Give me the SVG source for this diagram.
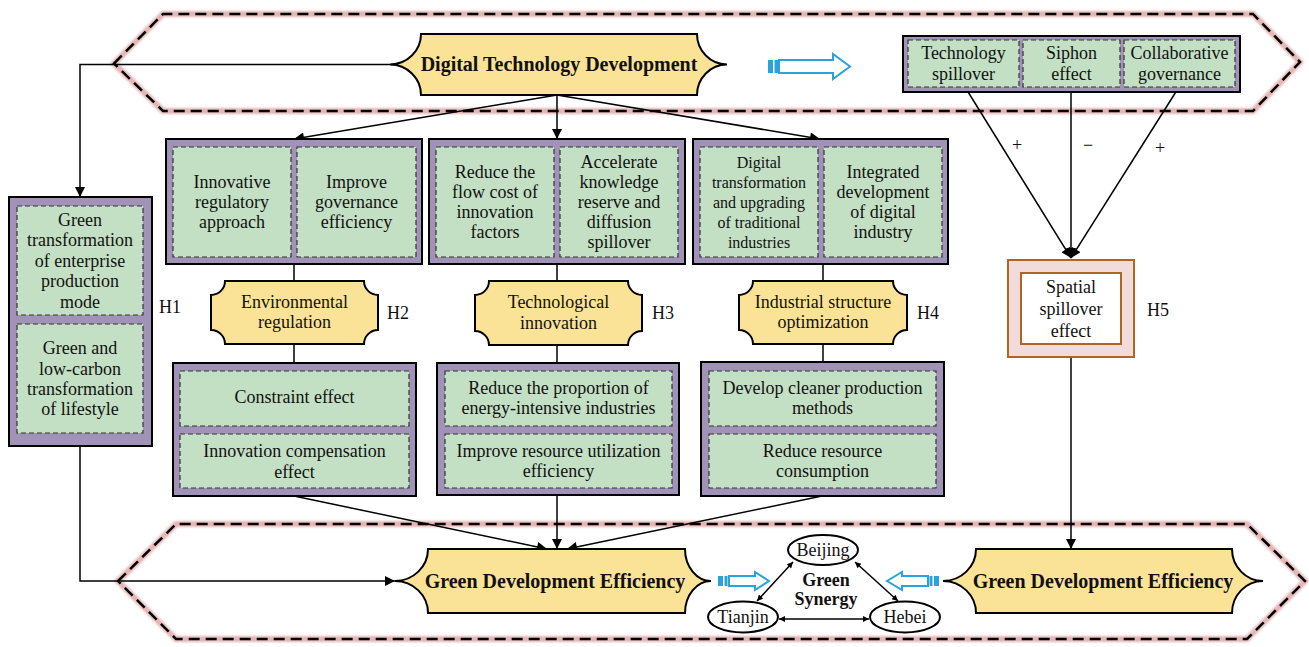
<svg xmlns="http://www.w3.org/2000/svg" width="1309" height="647" viewBox="0 0 1309 647">
  <style>
    .box{fill:#a193b7;stroke:#000;stroke-width:2}
    .cell{fill:#c4e0c4;stroke:#333;stroke-width:1.2;stroke-dasharray:5,3}
    .yel{fill:#fae396;stroke:#000;stroke-width:2}
    .t{font-family:"Liberation Serif","Times New Roman",serif;font-size:18px;text-anchor:middle;fill:#111}
    .s16{font-size:16px}
    .b{font-weight:bold}
    .title{font-size:20px}
    .h{font-family:"Liberation Serif","Times New Roman",serif;font-size:18px;fill:#111}
    .conn{stroke:#000;stroke-width:1.5;fill:none}
    .halo{fill:none;stroke:#e3b5b4;stroke-width:6;filter:url(#soft)}
    .band{fill:none;stroke:#000;stroke-width:2.5;stroke-dasharray:11,6}
    .blue{fill:#fff;stroke:#2aa3dd;stroke-width:2}
    .bluef{fill:#2aa3dd}
    .ell{fill:#fff;stroke:#000;stroke-width:2}
  </style>
  <defs>
    <filter id="soft" x="-5%" y="-20%" width="110%" height="140%">
      <feGaussianBlur stdDeviation="1.2"/>
    </filter>
    <marker id="arr" viewBox="0 0 10 10" refX="10" refY="5" markerWidth="15" markerHeight="10" markerUnits="userSpaceOnUse" orient="auto">
      <path d="M0,0 L10,5 L0,10 Z" fill="#000"/>
    </marker>
    <marker id="sarr" viewBox="0 0 10 10" refX="10" refY="5" markerWidth="8" markerHeight="6" markerUnits="userSpaceOnUse" orient="auto-start-reverse">
      <path d="M0,0 L10,5 L0,10 Z" fill="#000"/>
    </marker>
  </defs>

  <!-- dashed bands -->
  <g id="band-top">
    <polygon class="halo" points="114,63.5 163,14 1253,14 1300,62 1253,111 163,111"/>
    <polygon class="band" points="114,63.5 163,14 1253,14 1300,62 1253,111 163,111"/>
  </g>
  <g id="band-bottom">
    <polygon class="halo" points="118,581 176,524 1247,524 1305,581 1247,639 176,639"/>
    <polygon class="band" points="118,581 176,524 1247,524 1305,581 1247,639 176,639"/>
  </g>

  <!-- connectors -->
  <g id="connectors">
    <polyline class="conn" points="390,64.5 80,64.5 80,197" marker-end="url(#arr)"/>
    <line class="conn" x1="557" y1="95" x2="294" y2="139" marker-end="url(#arr)"/>
    <line class="conn" x1="557" y1="95" x2="557" y2="139" marker-end="url(#arr)"/>
    <line class="conn" x1="557" y1="95" x2="820" y2="139" marker-end="url(#arr)"/>
    <line class="conn" x1="294" y1="264" x2="294" y2="281"/>
    <line class="conn" x1="557" y1="264" x2="557" y2="281"/>
    <line class="conn" x1="823" y1="264" x2="823" y2="281"/>
    <line class="conn" x1="294" y1="344" x2="294" y2="363"/>
    <line class="conn" x1="557" y1="345" x2="557" y2="363"/>
    <line class="conn" x1="823" y1="344" x2="823" y2="362"/>
    <line class="conn" x1="294" y1="496" x2="547" y2="549" marker-end="url(#arr)"/>
    <line class="conn" x1="557" y1="496" x2="557" y2="549" marker-end="url(#arr)"/>
    <line class="conn" x1="822" y1="496" x2="567" y2="549" marker-end="url(#arr)"/>
    <polyline class="conn" points="80,446 80,581 395,581" marker-end="url(#arr)"/>
    <line class="conn" x1="965" y1="87" x2="1071" y2="258" marker-end="url(#arr)"/>
    <line class="conn" x1="1071" y1="87" x2="1071" y2="258" marker-end="url(#arr)"/>
    <line class="conn" x1="1179" y1="87" x2="1071" y2="258" marker-end="url(#arr)"/>
    <line class="conn" x1="1071" y1="357" x2="1071" y2="549" marker-end="url(#arr)"/>
    <line class="conn" x1="793" y1="562" x2="757" y2="601" marker-start="url(#sarr)" marker-end="url(#sarr)"/>
    <line class="conn" x1="855" y1="562" x2="898" y2="601" marker-start="url(#sarr)" marker-end="url(#sarr)"/>
    <line class="conn" x1="779" y1="619" x2="869" y2="619" marker-start="url(#sarr)" marker-end="url(#sarr)"/>
    <text class="t" x="1017" y="151">+</text>
    <text class="t" x="1088" y="151">−</text>
    <text class="t" x="1160" y="154">+</text>
  </g>

  <!-- blue transfer arrows -->
  <g id="blue-arrow-top">
    <rect class="bluef" x="768" y="60" width="5" height="13"/>
    <rect class="bluef" x="774.5" y="60" width="3.5" height="13"/>
    <polygon class="blue" points="779,60 833,60 833,54 850,66.5 833,79 833,73 779,73"/>
  </g>
  <g id="blue-arrow-left">
    <rect class="bluef" x="718" y="576" width="5" height="10"/>
    <rect class="bluef" x="724.5" y="576" width="3" height="10"/>
    <polygon class="blue" points="729,576 755,576 755,572 769,581 755,590 755,586 729,586"/>
  </g>
  <g id="blue-arrow-right">
    <rect class="bluef" x="934" y="576" width="5" height="10"/>
    <rect class="bluef" x="929.5" y="576" width="3" height="10"/>
    <polygon class="blue" points="928,576 902,576 902,572 887,581 902,590 902,586 928,586"/>
  </g>

  <!-- title node -->
  <g id="node-dtd">
    <path class="yel" d="M421,34 H697 A30,30.5 0 0 0 727,64.5 A30,30.5 0 0 0 697,95 H421 A31,30.5 0 0 0 390,64.5 A31,30.5 0 0 0 421,34 Z"/>
    <text class="t b title" x="559" y="71">Digital Technology Development</text>
  </g>

  <!-- regional channels -->
  <g id="node-regional">
    <rect class="box" x="903" y="36" width="337" height="56"/>
    <rect class="cell" x="908" y="40" width="111" height="47"/>
    <rect class="cell" x="1023" y="40" width="97" height="47"/>
    <rect class="cell" x="1124" y="40" width="111" height="47"/>
    <text class="t" x="963.5" y="59">Technology</text>
    <text class="t" x="963.5" y="80">spillover</text>
    <text class="t" x="1071.5" y="59">Siphon</text>
    <text class="t" x="1071.5" y="80">effect</text>
    <text class="t" x="1179.5" y="59">Collaborative</text>
    <text class="t" x="1179.5" y="80">governance</text>
  </g>

  <!-- H1 -->
  <g id="node-h1">
    <rect class="box" x="9" y="197" width="143" height="249"/>
    <rect class="cell" x="17" y="206" width="126" height="109"/>
    <rect class="cell" x="17" y="324" width="126" height="109"/>
    <text class="t" x="80" y="225.5">Green</text>
    <text class="t" x="80" y="246">transformation</text>
    <text class="t" x="80" y="266.5">of enterprise</text>
    <text class="t" x="80" y="287">production</text>
    <text class="t" x="80" y="307.5">mode</text>
    <text class="t" x="80" y="354">Green and</text>
    <text class="t" x="80" y="374.5">low-carbon</text>
    <text class="t" x="80" y="395">transformation</text>
    <text class="t" x="80" y="415">of lifestyle</text>
    <text class="h" x="159" y="313">H1</text>
  </g>

  <!-- H2 column -->
  <g id="node-h2-top">
    <rect class="box" x="166" y="139" width="256" height="125"/>
    <rect class="cell" x="173" y="147" width="118" height="110"/>
    <rect class="cell" x="297" y="147" width="119" height="110"/>
    <text class="t" x="232" y="188">Innovative</text>
    <text class="t" x="232" y="208">regulatory</text>
    <text class="t" x="232" y="228">approach</text>
    <text class="t" x="356.5" y="188">Improve</text>
    <text class="t" x="356.5" y="208">governance</text>
    <text class="t" x="356.5" y="228">efficiency</text>
  </g>
  <g id="node-h2-mid">
    <path class="yel" d="M225,281 H364 A14,14 0 0 0 378,295 V330 A14,14 0 0 0 364,344 H225 A14,14 0 0 0 211,330 V295 A14,14 0 0 0 225,281 Z"/>
    <text class="t" x="294.5" y="308">Environmental</text>
    <text class="t" x="294.5" y="328">regulation</text>
    <text class="h" x="387" y="319">H2</text>
  </g>
  <g id="node-h2-bottom">
    <rect class="box" x="173" y="363" width="243" height="133"/>
    <rect class="cell" x="180" y="371" width="229" height="55"/>
    <rect class="cell" x="180" y="434" width="229" height="54"/>
    <text class="t" x="294.5" y="403">Constraint effect</text>
    <text class="t" x="294.5" y="457">Innovation compensation</text>
    <text class="t" x="294.5" y="478">effect</text>
  </g>

  <!-- H3 column -->
  <g id="node-h3-top">
    <rect class="box" x="429" y="139" width="256" height="125"/>
    <rect class="cell" x="436" y="147" width="118" height="110"/>
    <rect class="cell" x="560" y="147" width="118" height="110"/>
    <text class="t" x="495" y="178">Reduce the</text>
    <text class="t" x="495" y="198">flow cost of</text>
    <text class="t" x="495" y="218">innovation</text>
    <text class="t" x="495" y="238">factors</text>
    <text class="t" x="619" y="168">Accelerate</text>
    <text class="t" x="619" y="188">knowledge</text>
    <text class="t" x="619" y="208">reserve and</text>
    <text class="t" x="619" y="228">diffusion</text>
    <text class="t" x="619" y="248">spillover</text>
  </g>
  <g id="node-h3-mid">
    <path class="yel" d="M489,281 H628 A14,14 0 0 0 642,295 V331 A14,14 0 0 0 628,345 H489 A14,14 0 0 0 475,331 V295 A14,14 0 0 0 489,281 Z"/>
    <text class="t" x="558.5" y="308">Technological</text>
    <text class="t" x="558.5" y="329">innovation</text>
    <text class="h" x="652" y="319">H3</text>
  </g>
  <g id="node-h3-bottom">
    <rect class="box" x="437" y="363" width="242" height="132"/>
    <rect class="cell" x="445" y="371" width="227" height="55"/>
    <rect class="cell" x="445" y="434" width="227" height="54"/>
    <text class="t" x="558.5" y="394">Reduce the proportion of</text>
    <text class="t" x="558.5" y="414">energy-intensive industries</text>
    <text class="t" x="558.5" y="457">Improve resource utilization</text>
    <text class="t" x="558.5" y="477">efficiency</text>
  </g>

  <!-- H4 column -->
  <g id="node-h4-top">
    <rect class="box" x="693" y="139" width="255" height="125"/>
    <rect class="cell" x="700" y="147" width="118" height="110"/>
    <rect class="cell" x="824" y="147" width="118" height="110"/>
    <text class="t s16" x="759" y="167.5">Digital</text>
    <text class="t s16" x="759" y="187.5">transformation</text>
    <text class="t s16" x="759" y="207.5">and upgrading</text>
    <text class="t s16" x="759" y="227.5">of traditional</text>
    <text class="t s16" x="759" y="247.5">industries</text>
    <text class="t" x="883" y="178">Integrated</text>
    <text class="t" x="883" y="198">development</text>
    <text class="t" x="883" y="218">of digital</text>
    <text class="t" x="883" y="238">industry</text>
  </g>
  <g id="node-h4-mid">
    <path class="yel" d="M753,281 H893 A14,14 0 0 0 907,295 V330 A14,14 0 0 0 893,344 H753 A14,14 0 0 0 739,330 V295 A14,14 0 0 0 753,281 Z"/>
    <text class="t" x="823" y="308">Industrial structure</text>
    <text class="t" x="823" y="328">optimization</text>
    <text class="h" x="917" y="319">H4</text>
  </g>
  <g id="node-h4-bottom">
    <rect class="box" x="701" y="362" width="243" height="134"/>
    <rect class="cell" x="709" y="371" width="227" height="55"/>
    <rect class="cell" x="709" y="434" width="227" height="54"/>
    <text class="t" x="822.5" y="394">Develop cleaner production</text>
    <text class="t" x="822.5" y="414">methods</text>
    <text class="t" x="822.5" y="457">Reduce resource</text>
    <text class="t" x="822.5" y="477">consumption</text>
  </g>

  <!-- H5 -->
  <g id="node-h5">
    <rect x="1008" y="260" width="126" height="97" fill="#f2dcdb" stroke="#b0661e" stroke-width="2"/>
    <rect x="1021" y="273" width="100" height="71" fill="#fff" stroke="#b0661e" stroke-width="2"/>
    <text class="t" x="1071" y="293">Spatial</text>
    <text class="t" x="1071" y="315">spillover</text>
    <text class="t" x="1071" y="337">effect</text>
    <text class="h" x="1147" y="316">H5</text>
  </g>

  <!-- outcome nodes -->
  <g id="node-gde-left">
    <path class="yel" d="M428,549 H685 A26,32 0 0 0 711,581 A26,32 0 0 0 685,613 H428 A33,32 0 0 0 395,581 A33,32 0 0 0 428,549 Z"/>
    <text class="t b title" x="555" y="588">Green Development Efficiency</text>
  </g>
  <g id="node-gde-right">
    <path class="yel" d="M976,549 H1232 A31,32 0 0 0 1263,581 A31,32 0 0 0 1232,613 H976 A33,32 0 0 0 943,581 A33,32 0 0 0 976,549 Z"/>
    <text class="t b title" x="1103" y="588">Green Development Efficiency</text>
  </g>

  <!-- regional synergy -->
  <g id="node-beijing">
    <ellipse class="ell" cx="823" cy="550" rx="35" ry="15"/>
    <text class="t" x="823" y="556">Beijing</text>
  </g>
  <g id="node-tianjin">
    <ellipse class="ell" cx="743" cy="617" rx="35" ry="15.5"/>
    <text class="t" x="743" y="623">Tianjin</text>
  </g>
  <g id="node-hebei">
    <ellipse class="ell" cx="905" cy="617" rx="35" ry="15.5"/>
    <text class="t" x="905" y="623">Hebei</text>
  </g>
  <g id="label-synergy">
    <text class="t b" x="826" y="586">Green</text>
    <text class="t b" x="826" y="605">Synergy</text>
  </g>
</svg>
